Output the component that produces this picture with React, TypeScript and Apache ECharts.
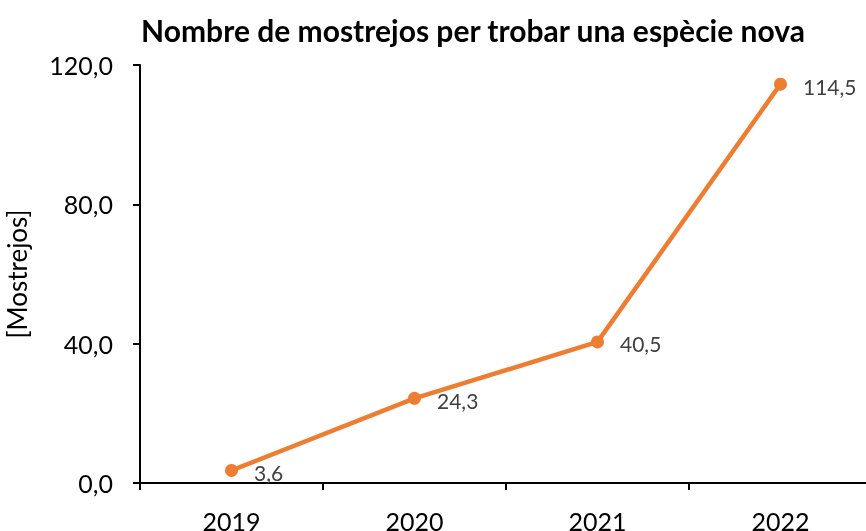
import React, { useEffect, useRef } from "react";
import * as echarts from "echarts";

const categories = ["2019", "2020", "2021", "2022"];
const values = [3.6, 24.3, 40.5, 114.5];
const yTicks = [0, 40, 80, 120];

const fmt = (v: number) => v.toFixed(1).replace(".", ",");

export default function App() {
  const ref = useRef<HTMLDivElement>(null);
  useEffect(() => {
    const chart = echarts.init(ref.current!, undefined, { renderer: "svg" });
    const font = "Lato, 'Open Sans', sans-serif";
    chart.setOption({
      animation: false,
      title: {
        text: "Nombre de mostrejos per trobar una espècie nova",
        left: 468,
        textAlign: "center",
        top: 10,
        textStyle: { fontFamily: font, fontSize: 30, fontWeight: "bold", color: "#000" },
      },
      grid: { left: 140, top: 65, bottom: 48, right: -6, containLabel: false, outerBoundsMode: "none" },
      xAxis: {
        type: "category",
        data: categories,
        boundaryGap: true,
        axisLine: { lineStyle: { color: "#000", width: 2 } },
        axisTick: { show: true, length: 7, lineStyle: { color: "#000", width: 2 } },
        axisLabel: { color: "#000", fontSize: 25, fontFamily: font, margin: 25 },
        splitLine: { show: false },
      },
      yAxis: {
        type: "value",
        min: yTicks[0],
        max: yTicks[yTicks.length - 1],
        interval: 40,
        name: "[Mostrejos]",
        nameLocation: "middle",
        nameGap: 110,
        nameTextStyle: { color: "#000", fontSize: 26, fontFamily: font },
        axisLine: { show: true, lineStyle: { color: "#000", width: 2 } },
        axisTick: { show: true, length: 7, lineStyle: { color: "#000", width: 2 } },
        axisLabel: { color: "#000", fontSize: 25, fontFamily: font, margin: 27, formatter: (v: number) => fmt(v) },
        splitLine: { show: false },
      },
      series: [
        {
          type: "line",
          data: values,
          symbol: "circle",
          symbolSize: 13,
          lineStyle: { color: "#ED7D31", width: 4.5 },
          itemStyle: { color: "#ED7D31" },
          label: {
            show: true,
            position: "right",
            distance: 16,
            offset: [0, 2],
            color: "#404040",
            fontSize: 21,
            fontFamily: font,
            formatter: (p: any) => fmt(p.value),
          },
        },
      ],
    });
    return () => chart.dispose();
  }, []);
  return <div ref={ref} style={{ width: 866, height: 531, position: "fixed", left: 0, top: 0 }} />;
}
